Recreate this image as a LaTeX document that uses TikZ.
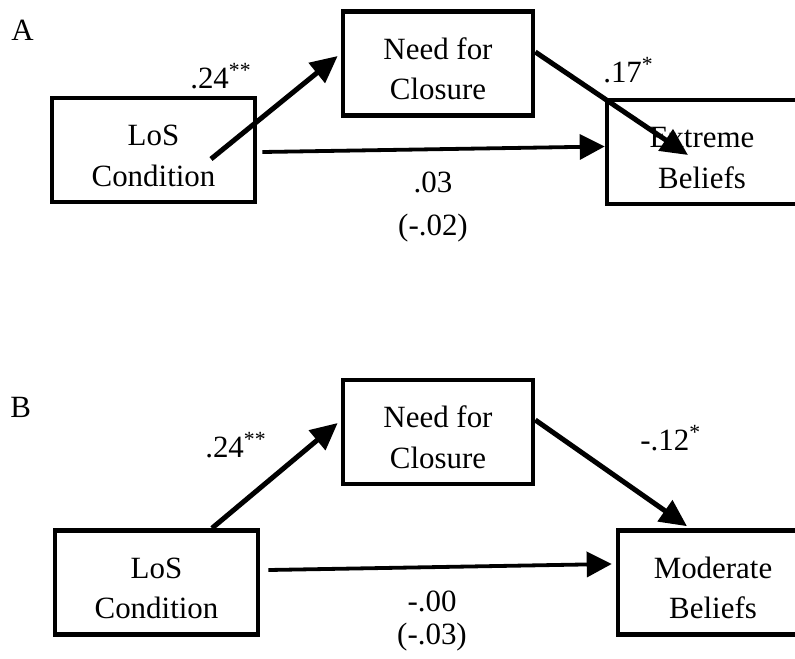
\documentclass[tikz,border=0pt]{standalone}
\usepackage{fontspec}
\setmainfont{Liberation Serif}
\usetikzlibrary{arrows.meta}
\newcommand{\topstrut}{\rule{0pt}{23pt}}
\tikzset{
  varbox/.style={draw, line width=1.15mm, minimum width=47.5mm, minimum height=26mm,
    inner sep=0pt, align=center, font=\fontsize{22}{28.5}\selectfont},
  medarrow/.style={-{Triangle[length=6.75mm,width=6.25mm]}, line width=1.25mm},
  directarrow/.style={-{Triangle[length=6.25mm,width=6.25mm]}, line width=0.95mm},
  coef/.style={inner sep=0pt, font=\fontsize{22}{23}\selectfont},
}
\begin{document}
\begin{tikzpicture}[x=0.25mm, y=-0.25mm]
  \useasboundingbox (0,0) rectangle (795,658);
  \clip (0,0) rectangle (795,658);

  % panel A
  \node[coef, anchor=base west] (labA) at (11,40) {A};
  \node[varbox, minimum width=50.75mm] (losA) at (153.5,150) {\topstrut LoS\\Condition};
  \node[varbox] (nfcA) at (438,63.5) {\topstrut Need for\\Closure};
  \node[varbox] (ebA) at (702,152) {\topstrut Extreme\\Beliefs};
  \draw[directarrow] ([shift={(5,2)}]losA.east) -- ([shift={(0,-5.5)}]ebA.west);
  \draw[medarrow] ([shift={(57.5,9)}]losA.center) -- ([shift={(-3,-7.5)}]nfcA.west);
  \draw[medarrow] ([shift={(0,-11.5)}]nfcA.east) -- ([shift={(-14,3)}]ebA.center);
  \node[coef, anchor=base west] (aA) at (190,88) {.24\textsuperscript{**}};
  \node[coef, anchor=base west] (bA) at (603,82) {.17\textsuperscript{*}};
  \node[coef, anchor=north, align=center] (cA) at (433,172) {.03\\[2.5mm](-.02)};

  % panel B
  \node[coef, anchor=base west] (labB) at (10,417) {B};
  \node[varbox, minimum width=50.75mm] (losB) at (156.5,582.5) {\topstrut LoS\\Condition};
  \node[varbox] (nfcB) at (438,432) {\topstrut Need for\\Closure};
  \node[varbox] (modB) at (713,582.5) {\topstrut Moderate\\Beliefs};
  \draw[directarrow] ([shift={(8,-12.5)}]losB.east) -- ([shift={(-4,-18.5)}]modB.west);
  \draw[medarrow] ([shift={(55.5,0)}]losB.north) -- ([shift={(-3,-9)}]nfcB.west);
  \draw[medarrow] ([shift={(0,-12)}]nfcB.east) -- ([shift={(-26,-2)}]modB.north);
  \node[coef, anchor=base west] (aB) at (205,457) {.24\textsuperscript{**}};
  \node[coef, anchor=base west] (bB) at (640,450) {-.12\textsuperscript{*}};
  \node[coef, anchor=north, align=center] (cB) at (432,591) {-.00\\(-.03)};
\end{tikzpicture}
\end{document}
